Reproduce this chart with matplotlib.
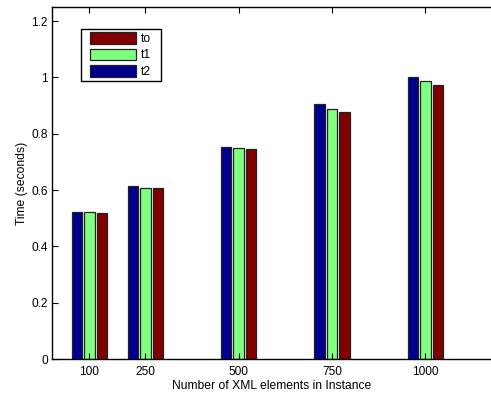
import matplotlib
matplotlib.use("Agg")
import matplotlib.pyplot as plt
from matplotlib.patches import Rectangle
import numpy as np

plt.rcParams['font.family'] = ['Liberation Sans', 'DejaVu Sans']

sizes = [100, 250, 500, 750, 1000]
t2 = [0.521, 0.614, 0.754, 0.904, 1.000]
t1 = [0.521, 0.609, 0.750, 0.889, 0.988]
to = [0.520, 0.609, 0.745, 0.878, 0.974]
ytick_vals = [0, 0.2, 0.4, 0.6, 0.8, 1, 1.2]
ytick_labels = ["0", "0.2", "0.4", "0.6", "0.8", "1", "1.2"]

W, H = 491, 396
fig = plt.figure(figsize=(W/100, H/100), dpi=100)
ax = fig.add_axes([52/W, 37/H, (W-52)/W, (359-7)/H])

x = np.array(sizes, dtype=float)
off = 33.5
w = 28
kw = dict(edgecolor='#222222', linewidth=0.9)
b2 = ax.bar(x - off, t2, w, color='#00008F', label='t2', **kw)
b1 = ax.bar(x, t1, w, color='#80FF80', label='t1', **kw)
b0 = ax.bar(x + off, to, w, color='#800000', label='to', **kw)

ax.set_xlim(0, 1176)
ax.set_ylim(0, 1.25)
ax.set_xticks(sizes)
ax.set_xticklabels([str(s) for s in sizes], fontsize=8.6)
ax.set_yticks(ytick_vals)
ax.set_yticklabels(ytick_labels, fontsize=8.6)
ax.tick_params(axis='x', direction='in', length=4, width=0.8, top=True, pad=5)
ax.tick_params(axis='y', direction='in', length=4, width=0.8, right=False, pad=3)
ax.spines['right'].set_visible(False)
for s in ['left', 'bottom', 'top']:
    ax.spines[s].set_linewidth(1.0)

ax.set_xlabel('Number of XML elements in Instance', fontsize=8.7, labelpad=1.5)
ax.set_ylabel('Time (seconds)', fontsize=8.7, labelpad=2.5)

# legend frame (pixel box 80.7..161 x 29..81 from top)
def px(xp, yp):
    return ((xp - 52) / (W - 52), (359 - yp) / (359 - 7))
x0, y0 = px(80.7, 81)
x1, y1 = px(161, 29)
ax.add_patch(Rectangle((x0, y0), x1 - x0, y1 - y0, transform=ax.transAxes,
                       facecolor='white', edgecolor='black', linewidth=1.0, zorder=5))
lx, ly = px(90, 32)
leg = ax.legend(handles=[b0, b1, b2], labels=['to', 't1', 't2'],
                loc='upper left', bbox_to_anchor=(lx, ly),
                fontsize=8.7, handlelength=3.8, handleheight=1.1, handletextpad=0.4,
                labelspacing=0.3, borderpad=0, frameon=False, borderaxespad=0)
leg.set_zorder(6)

fig.savefig('out.png', dpi=100)
